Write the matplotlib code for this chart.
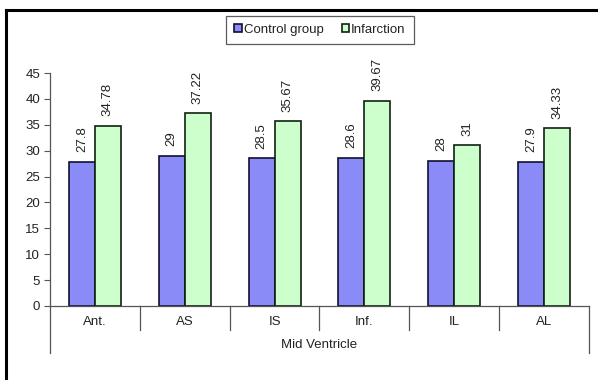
import matplotlib

matplotlib.use("Agg")
import matplotlib.pyplot as plt
import numpy as np
from matplotlib.lines import Line2D

segments = ["Ant.", "AS", "IS", "Inf.", "IL", "AL"]
control = [27.8, 29, 28.5, 28.6, 28, 27.9]
infarction = [34.78, 37.22, 35.67, 39.67, 31, 34.33]
control_labels = ["27.8", "29", "28.5", "28.6", "28", "27.9"]
infarction_labels = ["34.78", "37.22", "35.67", "39.67", "31", "34.33"]
yticks = [0, 5, 10, 15, 20, 25, 30, 35, 40, 45]

plt.rcParams["font.family"] = ["Liberation Sans", "DejaVu Sans"]
TXT = "#222222"
FS = 9.5

W, H = 598, 380
fig = plt.figure(figsize=(W / 100, H / 100), dpi=100)
fig.patch.set_facecolor("white")

# plot area in pixel units
x0, x1, y_top, y_zero = 50, 589, 73, 306
ax = fig.add_axes([x0 / W, 1 - y_zero / H, (x1 - x0) / W, (y_zero - y_top) / H])

x = np.arange(len(segments))
bw = 0.29
ax.bar(x - bw / 2, control, bw, color="#8b8bf7", edgecolor="#101030", linewidth=1.2,
       label="Control group", zorder=2)
ax.bar(x + bw / 2, infarction, bw, color="#ccffcc", edgecolor="#102010", linewidth=1.2,
       label="Infarction", zorder=2)

for xi, v, s in zip(x - bw / 2, control, control_labels):
    ax.annotate(s, (xi, v), xytext=(0, 7), textcoords="offset points", rotation=90,
                ha="center", va="bottom", fontsize=FS, color=TXT)
for xi, v, s in zip(x + bw / 2, infarction, infarction_labels):
    ax.annotate(s, (xi, v), xytext=(0, 7), textcoords="offset points", rotation=90,
                ha="center", va="bottom", fontsize=FS, color=TXT)

ax.set_xlim(-0.5, len(segments) - 0.5)
ax.set_ylim(0, 45)
ax.set_yticks(yticks)
ax.tick_params(axis="y", direction="out", length=4, width=0.8, colors="#555555",
               labelcolor=TXT, labelsize=FS, pad=3)
ax.tick_params(axis="x", length=0, labelsize=FS, labelcolor=TXT, pad=7)
ax.set_xticks(x)
ax.set_xticklabels(segments)
for side in ("top", "right"):
    ax.spines[side].set_visible(False)
ax.spines["left"].set_color("#555555")
ax.spines["bottom"].set_color("#555555")
ax.spines["left"].set_linewidth(0.9)
ax.spines["bottom"].set_linewidth(0.9)

# category separators below the axis
trans = ax.get_xaxis_transform()
short = -24 / (y_zero - y_top)
long = -47 / (y_zero - y_top)
for b in np.arange(0.5, len(segments) - 1, 1.0):
    ax.plot([b, b], [0, short], transform=trans, color="#555555", lw=0.9, clip_on=False)
for b in (-0.5, len(segments) - 0.5):
    ax.plot([b, b], [0, long], transform=trans, color="#555555", lw=0.9, clip_on=False)

ax.text(0.5, -39 / (y_zero - y_top), "Mid Ventricle", transform=ax.transAxes,
        ha="center", va="center", fontsize=FS, color=TXT)

leg = ax.legend(loc="center", bbox_to_anchor=(320 / W, 1 - 30 / H),
                bbox_transform=fig.transFigure, ncol=2, frameon=True, fancybox=False,
                fontsize=FS, handlelength=0.55, handleheight=0.55, handletextpad=0.15,
                columnspacing=1.4, borderpad=0.6, labelcolor=TXT)
leg.get_frame().set_edgecolor("#333333")
leg.get_frame().set_linewidth(0.9)

# outer frame (top and left edges)
fig.add_artist(Line2D([6 / W, 1], [1 - 10 / H, 1 - 10 / H], color="black", lw=2.2))
fig.add_artist(Line2D([6 / W, 6 / W], [0, 1 - 10 / H], color="black", lw=2.2))

fig.savefig("out.png", dpi=100)
